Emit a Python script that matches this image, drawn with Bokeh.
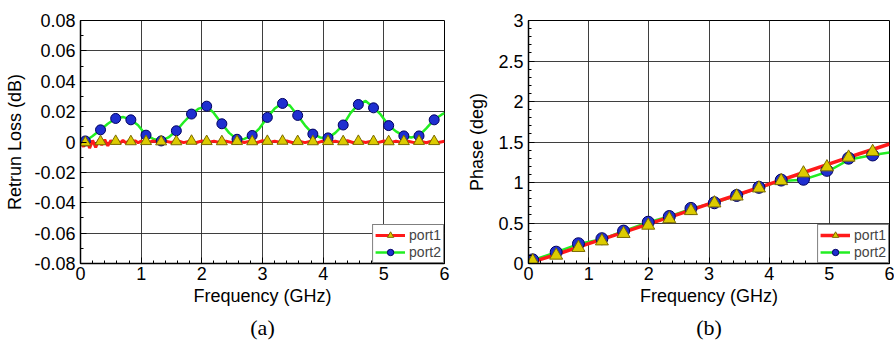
from bokeh.plotting import figure
from bokeh.layouts import row
from bokeh.models import FixedTicker, CustomJSTickFormatter, Legend, LegendItem, Title, Range1d
from bokeh.embed import file_html
from bokeh.resources import INLINE

# ---------------- data: (a) return loss ----------------
rl_line1_f = [0.0, 0.05, 0.1, 0.15, 0.2, 0.25, 0.3, 0.35, 0.4, 0.45, 0.5, 0.55, 0.6, 0.65, 0.7,
              0.75, 0.8, 0.85, 0.9, 0.95, 1.0, 1.1, 1.2, 1.3, 1.4, 1.5, 1.6, 1.7, 1.8, 1.9, 2.0,
              2.1, 2.2, 2.3, 2.4, 2.5, 2.6, 2.7, 2.8, 2.9, 3.0, 3.1, 3.2, 3.3, 3.4, 3.5, 3.6, 3.7,
              3.8, 3.9, 4.0, 4.1, 4.2, 4.3, 4.4, 4.5, 4.6, 4.7, 4.8, 4.9, 5.0, 5.1, 5.2, 5.3, 5.4,
              5.5, 5.6, 5.7, 5.8, 5.9, 6.0]
rl_line1 = [0.0, -0.003, 0.0015, -0.004, 0.001, -0.0035, 0.0012, -0.002, 0.0015, -0.0025, 0.001,
            -0.001, 0.0012, -0.0008, 0.001, -0.0006, 0.0009, -0.0007, 0.0008, -0.0005, 0.0006,
            -0.0004, 0.0007, -0.0005, 0.0006, -0.0003, 0.0008, -0.0004, 0.0006, -0.0005, 0.0007,
            -0.0003, 0.0006, -0.0005, 0.0005, -0.0004, 0.0007, -0.0003, 0.0006, -0.0005, 0.0008,
            -0.0004, 0.0006, -0.0003, 0.0007, -0.0005, 0.0006, -0.0004, 0.0005, -0.0006, 0.0007,
            -0.0003, 0.0006, -0.0004, 0.0008, -0.0005, 0.0006, -0.0003, 0.0005, -0.0004, 0.0007,
            -0.0005, 0.0006, -0.0003, 0.0005, -0.0004, 0.0006, -0.0005, 0.0007, -0.0003, 0.0005]
rl_line2_f = [0.0, 0.08, 0.2, 0.33, 0.45, 0.58, 0.7, 0.83, 0.95, 1.08, 1.2, 1.33, 1.45, 1.58, 1.7,
              1.83, 1.95, 2.08, 2.2, 2.33, 2.45, 2.58, 2.7, 2.83, 2.95, 3.08, 3.2, 3.33, 3.45, 3.58,
              3.7, 3.83, 3.95, 4.08, 4.2, 4.33, 4.45, 4.58, 4.7, 4.83, 4.95, 5.08, 5.2, 5.33, 5.45,
              5.58, 5.7, 5.83, 5.95, 6.0]
rl_line2 = [0.0, 0.0007, 0.004, 0.008, 0.012, 0.0155, 0.0165, 0.0146, 0.011, 0.0045, 0.002, 0.0007,
            0.003, 0.0074, 0.013, 0.0184, 0.022, 0.0236, 0.019, 0.012, 0.006, 0.0018, 0.002, 0.0043,
            0.009, 0.0162, 0.022, 0.0256, 0.024, 0.0175, 0.011, 0.0053, 0.003, 0.0027, 0.006, 0.0112,
            0.019, 0.0248, 0.027, 0.0228, 0.018, 0.0108, 0.007, 0.004, 0.003, 0.0042, 0.009, 0.0147,
            0.018, 0.019]
rl_mark_f = [0.08, 0.33, 0.58, 0.83, 1.08, 1.33, 1.58, 1.83, 2.08, 2.33, 2.58, 2.83, 3.08, 3.33,
             3.58, 3.83, 4.08, 4.33, 4.58, 4.83, 5.08, 5.33, 5.58, 5.83]
rl_mark1 = [-0.0004, 0.0003, 0.0005, 0.0003, 0.0004, 0.0002, 0.0003, 0.0006, 0.0004, 0.0003,
            0.0004, 0.0003, 0.0005, 0.0006, 0.0004, 0.0003, 0.0004, 0.0003, 0.0005, 0.0004,
            0.0003, 0.0004, 0.0005, 0.0004]
rl_mark2 = [0.0007, 0.008, 0.0155, 0.0146, 0.0045, 0.0007, 0.0074, 0.0184, 0.0236, 0.012, 0.0018,
            0.0043, 0.0162, 0.0254, 0.0175, 0.0052, 0.0027, 0.0112, 0.0247, 0.0225, 0.0108, 0.004,
            0.004, 0.0146]

# ---------------- data: (b) phase ----------------
ph_line1_f = [0.0, 0.5, 1.0, 1.5, 2.0, 2.5, 3.0, 3.5, 4.0, 4.5, 5.0, 5.5, 6.0]
ph_line1 = [0.005, 0.12, 0.245, 0.365, 0.49, 0.61, 0.735, 0.855, 0.98, 1.105, 1.23, 1.355, 1.475]
ph_line2_f = [0.0, 0.07, 0.46, 0.83, 1.22, 1.58, 1.99, 2.34, 2.70, 3.09, 3.46, 3.83, 4.20, 4.57,
              4.96, 5.32, 5.72, 6.0]
ph_line2 = [0.02, 0.04, 0.14, 0.24, 0.30, 0.40, 0.51, 0.58, 0.675, 0.75, 0.84, 0.935, 1.02, 1.035,
            1.13, 1.28, 1.34, 1.37]
ph_mark_f = [0.07, 0.46, 0.83, 1.22, 1.58, 1.99, 2.34, 2.70, 3.09, 3.46, 3.83, 4.20, 4.57, 4.96,
             5.32, 5.72]
ph_mark1 = [0.03, 0.10, 0.195, 0.276, 0.368, 0.47, 0.55, 0.65, 0.745, 0.83, 0.93, 1.02, 1.115,
            1.19, 1.31, 1.38]
ph_mark2 = [0.045, 0.14, 0.244, 0.306, 0.40, 0.51, 0.58, 0.68, 0.75, 0.84, 0.94, 1.03, 1.04, 1.15,
            1.30, 1.34]

series_labels = ["port1", "port2"]
x_label = "Frequency (GHz)"

RED = "#ff1a1a"
GREEN = "#22ee22"
BLUE = "#1f2fd0"
YELLOW = "#dccb00"
FONT = "Liberation Sans"

fmt = CustomJSTickFormatter(code="return String(Number(tick.toFixed(3)));")


def make_fig(ylo, yhi, ymajor, yminor, ylabel, tag, border_left, frame_w, border_right,
             ylab_standoff):
    p = figure(frame_width=frame_w, frame_height=243, output_backend="svg",
               toolbar_location=None, min_border_left=border_left, min_border_top=20,
               min_border_bottom=70, min_border_right=border_right,
               x_range=Range1d(0, 6), y_range=Range1d(ylo, yhi))
    p.xaxis.ticker = FixedTicker(ticks=[0, 1, 2, 3, 4, 5, 6],
                                 minor_ticks=[i * 0.2 for i in range(31)])
    p.yaxis.ticker = FixedTicker(ticks=ymajor, minor_ticks=yminor)
    for ax in (p.xaxis[0], p.yaxis[0]):
        ax.formatter = fmt
        ax.major_tick_in = 6
        ax.major_tick_out = 0
        ax.minor_tick_in = 3
        ax.minor_tick_out = 0
        ax.axis_line_color = "black"
        ax.axis_line_width = 1.5
        ax.major_tick_line_color = "black"
        ax.minor_tick_line_color = "black"
        ax.major_label_text_font = FONT
        ax.major_label_text_font_size = "18px"
        ax.major_label_text_color = "black"
        ax.axis_label_text_font = FONT
        ax.axis_label_text_font_size = "18px"
        ax.axis_label_text_font_style = "normal"
        ax.axis_label_text_color = "black"
        ax.major_label_standoff = 5
    p.xaxis.major_label_standoff = 3
    p.xaxis.axis_label = x_label
    p.xaxis.axis_label_standoff = 3
    p.yaxis.axis_label = ylabel
    p.yaxis.axis_label_standoff = ylab_standoff
    p.grid.grid_line_color = "#2a2a2a"
    p.grid.grid_line_alpha = 0.9
    p.grid.grid_line_width = 1
    p.outline_line_color = "black"
    p.outline_line_width = 1
    p.outline_line_alpha = 1
    p.background_fill_color = "white"
    p.border_fill_color = "white"
    p.add_layout(Title(text=tag, align="center", text_font="Liberation Serif",
                       text_font_size="22px", text_font_style="normal", standoff=8,
                       text_color="black"), "below")
    return p


def add_series(p, l1f, l1, l2f, l2, mf, m1, m2, msize, rwidth):
    g = p.line(l2f, l2, line_color=GREEN, line_width=2.5)
    r = p.line(l1f, l1, line_color=RED, line_width=rwidth)
    c = p.scatter(mf, m2, marker="circle", size=msize, fill_color=BLUE,
                  line_color="#000060", line_width=1)
    t = p.scatter(mf, m1, marker="triangle", size=msize + 1, fill_color=YELLOW,
                  line_color="#7a6a00", line_width=1)
    leg = Legend(items=[LegendItem(label=series_labels[0], renderers=[r, t]),
                        LegendItem(label=series_labels[1], renderers=[g, c])],
                 location="bottom_right", margin=0, padding=2, spacing=1,
                 glyph_width=30, glyph_height=16, label_height=16, label_standoff=4,
                 label_text_font=FONT, label_text_font_size="14px",
                 border_line_color="black", border_line_width=1,
                 background_fill_color="white", background_fill_alpha=1)
    p.add_layout(leg)


pa = make_fig(-0.08, 0.08, [-0.08, -0.06, -0.04, -0.02, 0, 0.02, 0.04, 0.06, 0.08],
              [-0.08 + 0.01 * i for i in range(17)], "Retrun Loss (dB)", "(a)", 80, 364, 7, 6)
add_series(pa, rl_line1_f, rl_line1, rl_line2_f, rl_line2, rl_mark_f, rl_mark1, rl_mark2, 10, 3)

pb = make_fig(0, 3, [0, 0.5, 1, 1.5, 2, 2.5, 3],
              [0.1 * i for i in range(31)], "Phase (deg)", "(b)", 77, 361, 5, 8)
add_series(pb, ph_line1_f, ph_line1, ph_line2_f, ph_line2, ph_mark_f, ph_mark1, ph_mark2, 12, 3.5)

layout = row(pa, pb)
open("out.html", "w").write(file_html(layout, INLINE))
